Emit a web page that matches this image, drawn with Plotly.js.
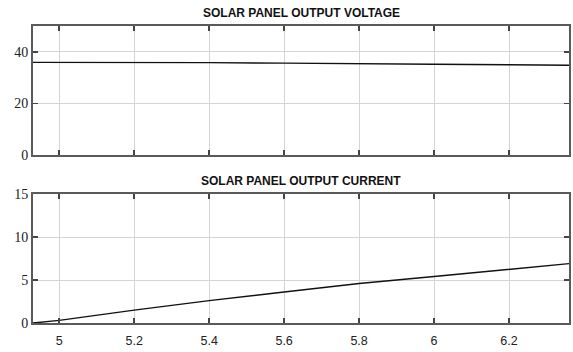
<!DOCTYPE html>
<html>
<head>
<meta charset="utf-8">
<script src="https://cdn.plot.ly/plotly-3.0.1.min.js"></script>
<style>html,body{margin:0;padding:0;background:#fff;}#chart{width:573px;height:352px;}</style>
</head>
<body>
<div id="chart"></div>
<script>
const time = [4.93, 5.0, 5.2, 5.4, 5.6, 5.8, 6.0, 6.2, 6.36];
const voltage = [35.9, 35.9, 35.8, 35.8, 35.6, 35.3, 35.2, 35.0, 34.8];
const current = [0, 0.3, 1.5, 2.6, 3.6, 4.6, 5.4, 6.2, 6.9];
const titleTop = 'SOLAR PANEL OUTPUT VOLTAGE';
const titleBottom = 'SOLAR PANEL OUTPUT CURRENT';
const xTicks = [5, 5.2, 5.4, 5.6, 5.8, 6, 6.2];
const vTicks = [0, 20, 40];
const iTicks = [0, 5, 10, 15];

const serif = 'Times New Roman';
const sans = 'Arial';

const frame = {
  showline: true, mirror: 'ticks', linecolor: '#5a5a5a', linewidth: 2,
  ticks: 'inside', ticklen: 5, tickwidth: 1.5, tickcolor: '#444',
  showgrid: true, gridcolor: '#d4d4d4', gridwidth: 1, zeroline: false
};
const xRange = [4.93, 6.36];

const traces = [
  {x: time, y: voltage, xaxis: 'x2', yaxis: 'y2', mode: 'lines', line: {color: '#111', width: 1.4}, hoverinfo: 'skip'},
  {x: time, y: current, xaxis: 'x', yaxis: 'y', mode: 'lines', line: {color: '#111', width: 1.4}, hoverinfo: 'skip'}
];

const layout = {
  width: 573, height: 352,
  margin: {l: 33, r: 4, t: 26, b: 29},
  paper_bgcolor: '#fff', plot_bgcolor: '#fff',
  showlegend: false,
  xaxis: Object.assign({}, frame, {anchor: 'y', range: xRange, tickvals: xTicks, ticktext: xTicks.map(String),
    ticklabelstandoff: 5,
    tickfont: {family: sans, size: 12.5, color: '#222'}}),
  yaxis: Object.assign({}, frame, {anchor: 'x', domain: [0, 0.4343], range: [0, 15], tickvals: iTicks,
    tickfont: {family: serif, size: 14, color: '#222'}}),
  xaxis2: Object.assign({}, frame, {anchor: 'y2', range: xRange, tickvals: xTicks, showticklabels: false}),
  yaxis2: Object.assign({}, frame, {anchor: 'x2', domain: [0.5657, 1], range: [0, 50], tickvals: vTicks,
    tickfont: {family: serif, size: 14, color: '#222'}}),
  annotations: [
    {text: '<b>' + titleTop + '</b>', xref: 'paper', yref: 'paper', x: 0.5, y: 1, yshift: 4, yanchor: 'bottom', showarrow: false,
      font: {family: sans, size: 12, color: '#111'}},
    {text: '<b>' + titleBottom + '</b>', xref: 'paper', yref: 'paper', x: 0.5, y: 0.4343, yshift: 4, yanchor: 'bottom', showarrow: false,
      font: {family: sans, size: 12, color: '#111'}}
  ]
};

Plotly.newPlot('chart', traces, layout, {staticPlot: true, displayModeBar: false});
</script>
</body>
</html>
